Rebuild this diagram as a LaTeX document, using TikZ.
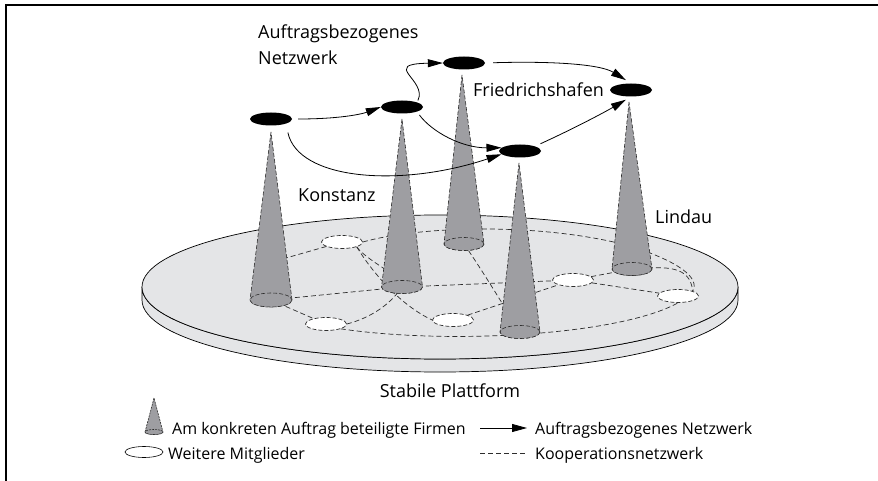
\documentclass[tikz,border=0pt]{standalone}
\usepackage{fontspec}
\setmainfont{Open Sans}
\usetikzlibrary{arrows.meta,shapes.geometric,positioning}

\definecolor{plattform}{RGB}{228,229,231}
\definecolor{kegel}{RGB}{158,158,162}
\definecolor{strich}{RGB}{45,45,45}

\tikzset{
  firma/.style={ellipse, fill=black, minimum width=42pt, minimum height=13pt, inner sep=0pt},
  mitglied/.style={ellipse, draw=strich, line width=0.7pt, dash pattern=on 4pt off 2pt, fill=white,
    minimum width=41pt, minimum height=13pt, inner sep=0pt},
  netz/.style={draw=strich, line width=0.7pt, dash pattern=on 5pt off 3pt},
  pfeil/.style={line width=0.8pt, -{Triangle[length=15pt,width=8pt]}},
  kegelrand/.style={draw=strich, line width=0.6pt, dash pattern=on 4pt off 2pt, fill=kegel},
  scheibe/.style={draw=black, line width=0.7pt, fill=plattform},
  beschriftung/.style={font=\fontsize{18}{26}\selectfont, inner sep=0pt},
  legende/.style={font=\fontsize{16}{20}\selectfont, inner sep=0pt, anchor=base west},
}

\begin{document}
\begin{tikzpicture}[x=1pt, y=-1pt]
    \useasboundingbox (0,0) rectangle (878,481);
    \draw[line width=1.3pt] (6,481) -- (6,5) -- (878,5);

    % Plattform
    \draw[scheibe] (142,287) -- (142,300) arc[start angle=180, end angle=0, x radius=298, y radius=72]
        -- (738,287) arc[start angle=0, end angle=180, x radius=298, y radius=72] -- cycle;
    \draw[scheibe] (440,287) ellipse [x radius=298, y radius=72];

    \coordinate (b1) at (271,300);
    \coordinate (b2) at (402,287);
    \coordinate (b3) at (464,244);
    \coordinate (b4) at (520,332);
    \coordinate (b5) at (632,269);
    \coordinate (h1) at (272,262);
    \coordinate (h2) at (400,280);

    % weitere Mitglieder
    \node[mitglied] (m1) at (342,242) {};
    \node[mitglied] (m2) at (326,324) {};
    \node[mitglied] (m3) at (453,320) {};
    \node[mitglied] (m4) at (573,280) {};
    \node[mitglied] (m5) at (678,296) {};

    % Kooperationsnetzwerk
    \draw[netz] (b1) -- (b2);
    \draw[netz] (m1) -- (h1);
    \draw[netz] (b1) -- (m2);
    \draw[netz] (m2.east) .. controls (370,318) and (390,305) .. (b2);
    \draw[netz] (m2.south east) .. controls (450,345) and (620,335) .. (m5.south);
    \draw[netz] (m1.south east) .. controls (372,272) and (400,305) .. (m3.west);
    \draw[netz] (m1.south east) .. controls (365,258) and (385,268) .. (h2);
    \draw[netz] (m1.east) .. controls (420,226) and (540,222) .. (630,246)
        .. controls (680,262) and (700,278) .. (m5.north east);
    \draw[netz] (b5) .. controls (668,266) and (690,266) .. (m5.north east);
    \draw[netz] (b2) -- (m4);
    \draw[netz] (m4) -- (m5);
    \draw[netz] (m4) -- (b5);
    \draw[netz] (m3) -- (m4);
    \draw[netz] (b3) .. controls (482,270) and (500,300) .. (b4);

    % Kegel der beteiligten Firmen
    \draw[kegelrand] (271,132) -- (250,300) arc[start angle=180, end angle=0, x radius=21, y radius=7] -- cycle;
    \draw[kegelrand] (b1) ellipse [x radius=21, y radius=7];
    \draw[kegelrand] (402,119) -- (381.5,287) arc[start angle=180, end angle=0, x radius=20.5, y radius=6.5] -- cycle;
    \draw[kegelrand] (b2) ellipse [x radius=20.5, y radius=6.5];
    \draw[kegelrand] (462,75) -- (444,244) arc[start angle=180, end angle=0, x radius=20, y radius=6.5] -- cycle;
    \draw[kegelrand] (b3) ellipse [x radius=20, y radius=6.5];
    \draw[kegelrand] (519,163) -- (500,332) arc[start angle=180, end angle=0, x radius=20, y radius=6.5] -- cycle;
    \draw[kegelrand] (b4) ellipse [x radius=20, y radius=6.5];
    \draw[kegelrand] (629,102) -- (612,269) arc[start angle=180, end angle=0, x radius=20, y radius=6.5] -- cycle;
    \draw[kegelrand] (b5) ellipse [x radius=20, y radius=6.5];

    % Auftragsbezogenes Netzwerk
    \node[firma] (f1) at (271,119) {};
    \node[firma] (f2) at (402,107) {};
    \node[firma] (f3) at (464,63) {};
    \node[firma] (f4) at (631,90) {};
    \node[firma] (f5) at (520,151) {};

    \draw[pfeil, shorten <=6pt] (f1.east) .. controls (340,119) and (362,114) .. (f2.west);
    \draw[pfeil, shorten <=2pt] (f2.north east) .. controls (428,80) and (380,64) .. (f3.west);
    \draw[pfeil, shorten <=8pt, shorten >=6pt] (f3.east) .. controls (550,61) and (600,64) .. (f4.north);
    \draw[pfeil, shorten <=4pt] (f2.south east) .. controls (432,132) and (462,148) .. (f5.170);
    \draw[pfeil, shorten <=9pt] (f1.south east) .. controls (298,180) and (400,188) .. (f5.190);
    \draw[pfeil, shorten <=6pt, shorten >=6pt] (f5.north east) .. controls (575,128) and (605,112) .. (f4.south);

    \node[beschriftung, anchor=north west, align=left] (titel) at (258,25) {Auftragsbezogenes\\Netzwerk};
    \node[beschriftung, anchor=base west] (konstanz) at (298,202) {Konstanz};
    \node[beschriftung, anchor=base west] (friedrichshafen) at (473,97) {Friedrichshafen};
    \node[beschriftung, anchor=base west] (lindau) at (655,223) {Lindau};
    \node[beschriftung, anchor=base] (plattformtext) at (450,397) {Stabile Plattform};

    % Legende
    \draw[kegelrand, dash pattern=on 2pt off 1pt] (154,398) -- (145,432) arc[start angle=180, end angle=0, x radius=9, y radius=2.5] -- cycle;
    \draw[kegelrand, dash pattern=on 2pt off 1pt] (154,432) ellipse [x radius=9, y radius=2.5];
    \node[legende] (leg1) at (172,434) {Am konkreten Auftrag beteiligte Firmen};
    \node[ellipse, draw, line width=0.6pt, fill=white, minimum width=38pt, minimum height=11pt, inner sep=0pt] (leg2sym) at (144,452) {};
    \node[legende] (leg2) at (168,459) {Weitere Mitglieder};

    \coordinate (p1) at (480,428);
    \coordinate (p2) at (527,428);
    \draw[pfeil] (p1) -- (p2);
    \node[legende] (leg3) at (535,434) {Auftragsbezogenes Netzwerk};
    \coordinate (q1) at (480,453);
    \coordinate (q2) at (527,453);
    \draw[netz] (q1) -- (q2);
    \node[legende] (leg4) at (535,459) {Kooperationsnetzwerk};
\end{tikzpicture}
\end{document}
